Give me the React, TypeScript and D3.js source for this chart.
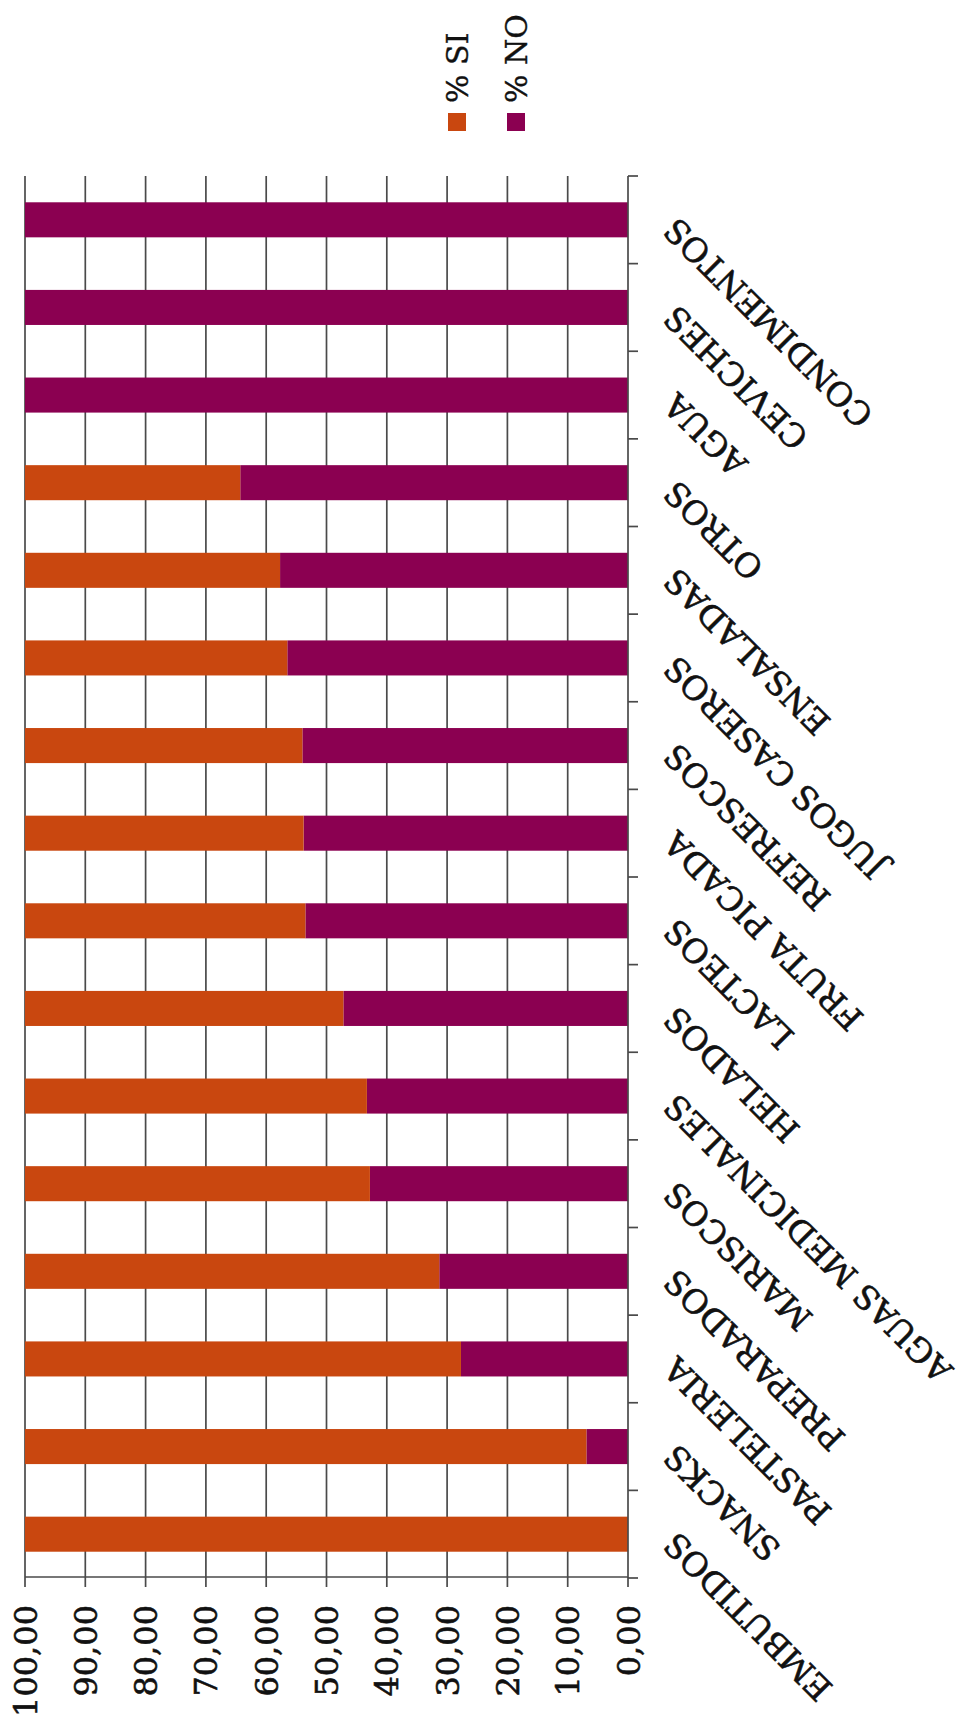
import React from 'react';
import * as d3 from 'd3';

const categories = [
  'EMBUTIDOS', 'SNACKS', 'PASTELERIA', 'PREPARADOS', 'MARISCOS',
  'AGUAS MEDICINALES', 'HELADOS', 'LACTEOS', 'FRUTA PICADA', 'REFRESCOS',
  'JUGOS CASEROS', 'ENSALADAS', 'OTROS', 'AGUA', 'CEVICHES', 'CONDIMENTOS',
];
const pctSi = [100, 93.1, 72.3, 68.7, 57.2, 56.7, 52.8, 46.5, 46.2, 46.0, 43.5, 42.3, 35.7, 0, 0, 0];
const pctNo = [0, 6.9, 27.7, 31.3, 42.8, 43.3, 47.2, 53.5, 53.8, 54.0, 56.5, 57.7, 64.3, 100, 100, 100];
const valueTicks = [0, 10, 20, 30, 40, 50, 60, 70, 80, 90, 100];
const seriesKeys = ['no', 'si'];
const legendItems = [
  { key: 'si', label: '% SI' },
  { key: 'no', label: '% NO' },
];

const COLORS: Record<string, string> = { si: '#C9470F', no: '#8B0051' };
const FONT = '"DejaVu Serif", serif';

export default function App() {
  const W = 964, H = 1736;
  const left = 25, right = 628, top = 176, bottom = 1578;

  const x = d3.scaleLinear().domain([0, 100]).range([right, left]);
  const y = d3.scaleBand<string>().domain(categories).range([bottom, top]).paddingInner(0.6).paddingOuter(0.3);
  const step = y.step();

  const rows = categories.map((c, i) => ({ cat: c, si: pctSi[i], no: pctNo[i] }));
  const stacked = d3.stack<any>().keys(seriesKeys)(rows);

  const fmt = (v: number) => d3.format('.2f')(v).replace('.', ',');

  return (
    <svg width={W} height={H} style={{ position: 'absolute', left: 0, top: 0, background: '#fff' }}>
      <rect x={0} y={0} width={W} height={H} fill="#fff" />
      {/* gridlines */}
      {valueTicks.filter(v => v > 0).map(v => (
        <line key={'g' + v} x1={x(v)} x2={x(v)} y1={top} y2={bottom - 1} stroke="#4a4a4a" strokeWidth={1.7} />
      ))}
      {/* bars */}
      {stacked.map(s => (
        <g key={s.key} fill={COLORS[s.key as string]}>
          {s.map((d, i) => (
            <rect key={i}
              x={x(d[1])}
              y={y(categories[i])!}
              width={Math.max(0, x(d[0]) - x(d[1]))}
              height={y.bandwidth()} />
          ))}
        </g>
      ))}
      {/* value axis (bottom) */}
      <line x1={left} x2={right} y1={bottom - 1} y2={bottom - 1} stroke="#4a4a4a" strokeWidth={1.7} />
      {valueTicks.map(v => (
        <g key={'t' + v}>
          <line x1={x(v)} x2={x(v)} y1={bottom - 1} y2={bottom + 9} stroke="#4a4a4a" strokeWidth={1.7} />
          <text transform={`translate(${x(v)},${bottom + 27}) rotate(-90)`} textAnchor="end" dy="0.36em"
            fontFamily={FONT} fontSize={32} fill="#111" stroke="#111" strokeWidth={0.6}>{fmt(v)}</text>
        </g>
      ))}
      {/* category axis (right) */}
      <line x1={right} x2={right} y1={top} y2={bottom} stroke="#4a4a4a" strokeWidth={1.7} />
      {d3.range(categories.length + 1).map(i => (
        <line key={'c' + i} x1={right} x2={right + 10} y1={bottom - i * step} y2={bottom - i * step} stroke="#4a4a4a" strokeWidth={1.7} />
      ))}
      {categories.map(c => (
        <text key={c} transform={`translate(${right + 50},${y(c)! + y.bandwidth() / 2 - 4}) rotate(225)`}
          textAnchor="end" fontFamily={FONT} fontSize={33} fill="#111" stroke="#111" strokeWidth={0.6}>{c}</text>
      ))}
      {/* legend */}
      {legendItems.map((it, i) => {
        const lx = 448 + i * 59;
        return (
          <g key={it.key}>
            <rect x={lx} y={113} width={18} height={18} fill={COLORS[it.key]} />
            <text transform={`translate(${lx + 9},${103}) rotate(-90)`} dy="0.36em" textAnchor="start"
              fontFamily={FONT} fontSize={30} fill="#111" stroke="#111" strokeWidth={0.4}>{it.label}</text>
          </g>
        );
      })}
    </svg>
  );
}
